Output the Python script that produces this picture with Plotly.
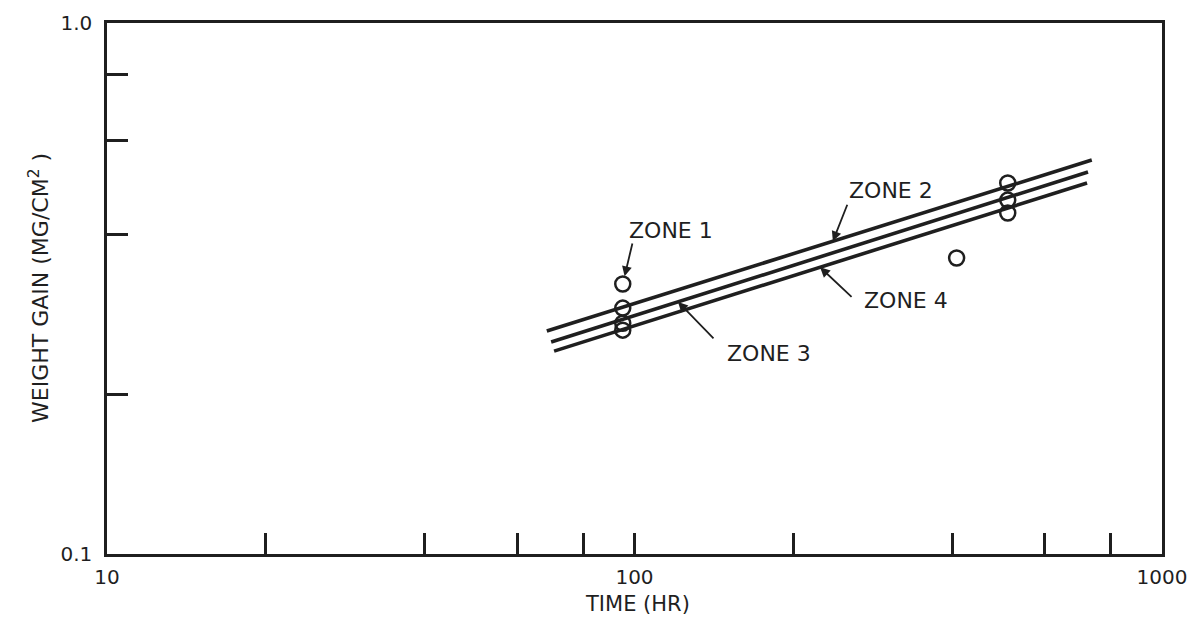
import math
import plotly.graph_objects as go

INK = "#1f1f1f"
FONT = "DejaVu Sans"

# Fitted weight-gain lines (time in hr, gain in mg/cm^2), one per zone
zone2_line_t = [68.2, 736]
zone2_line_w = [0.263, 0.552]
zone3_line_t = [69.5, 724]
zone3_line_w = [0.2507, 0.524]
zone4_line_t = [70.4, 721]
zone4_line_w = [0.241, 0.4996]

# Measured weight gains
zone1_t = [95, 408]
zone1_w = [0.3225, 0.361]
zone2_t = [95, 510]
zone2_w = [0.2905, 0.4996]
zone3_t = [95, 510]
zone3_w = [0.272, 0.464]
zone4_t = [95, 510]
zone4_w = [0.264, 0.4387]

# Axis ticks: labelled decades plus unlabelled intermediate marks
x_tickvals = [10, 100, 1000]
x_ticktext = ["10", "100", "1000"]
x_minor_vals = [20, 40, 60, 80, 200, 400, 600, 800]
y_tickvals = [0.1, 1.0]
y_ticktext = ["0.1", "1.0"]
y_minor_vals = [0.2, 0.4, 0.6, 0.8]

x_title = "TIME (HR)"
y_title = "WEIGHT GAIN (MG/CM<sup>2</sup> )"


def on_line(ts, ws, t):
    """Gain on a straight log-log line at time t."""
    lt0, lt1 = math.log10(ts[0]), math.log10(ts[1])
    lw0, lw1 = math.log10(ws[0]), math.log10(ws[1])
    f = (math.log10(t) - lt0) / (lt1 - lt0)
    return lw0 + f * (lw1 - lw0)


fig = go.Figure()

for ts, ws in [(zone2_line_t, zone2_line_w), (zone3_line_t, zone3_line_w),
               (zone4_line_t, zone4_line_w)]:
    fig.add_trace(go.Scatter(x=ts, y=ws, mode="lines",
                             line=dict(color=INK, width=3.6),
                             showlegend=False, hoverinfo="skip"))

for ts, ws in [(zone1_t, zone1_w), (zone2_t, zone2_w), (zone3_t, zone3_w),
               (zone4_t, zone4_w)]:
    fig.add_trace(go.Scatter(x=ts, y=ws, mode="markers",
                             marker=dict(symbol="circle-open", size=15, color=INK,
                                         line=dict(width=2.5, color=INK)),
                             showlegend=False))

label_font = dict(family=FONT, size=22, color=INK)
annotations = []

# Zone labels
for text, lx, ly in [("ZONE 1", 2.069, -0.390), ("ZONE 2", 2.486, -0.3145),
                     ("ZONE 4", 2.515, -0.5217), ("ZONE 3", 2.255, -0.6215)]:
    annotations.append(dict(x=lx, y=ly, xref="x", yref="y", text=text,
                            showarrow=False, font=label_font,
                            xanchor="center", yanchor="middle"))

# Leader arrows pointing from each label to its line or point
arrow_common = dict(xref="x", yref="y", axref="pixel", ayref="pixel", text="",
                    showarrow=True, arrowhead=2, arrowsize=1.1, arrowwidth=1.8,
                    arrowcolor=INK)
annotations.append(dict(x=math.log10(zone1_t[0]), y=math.log10(zone1_w[0]),
                        ax=10, ay=-42, standoff=8, **arrow_common))
t2 = 237.7
annotations.append(dict(x=math.log10(t2), y=on_line(zone2_line_t, zone2_line_w, t2),
                        ax=15, ay=-38, **arrow_common))
t4 = 224.8
annotations.append(dict(x=math.log10(t4), y=on_line(zone4_line_t, zone4_line_w, t4),
                        ax=33, ay=31, **arrow_common))
t3 = 120.9
annotations.append(dict(x=math.log10(t3), y=on_line(zone3_line_t, zone3_line_w, t3),
                        ax=37, ay=38, **arrow_common))

# Axis titles, placed in paper coordinates
annotations.append(dict(x=0.503, y=-0.094, xref="paper", yref="paper",
                        text=x_title, showarrow=False,
                        font=dict(family=FONT, size=21, color=INK),
                        xanchor="center", yanchor="middle"))
annotations.append(dict(x=-0.0645, y=0.501, xref="paper", yref="paper",
                        text=y_title, showarrow=False, textangle=-90,
                        font=dict(family=FONT, size=22, color=INK),
                        xanchor="center", yanchor="middle"))

tick_style = dict(ticks="inside", ticklen=21, tickwidth=2.5, tickcolor=INK)

fig.update_layout(
    width=1197, height=617,
    margin=dict(l=107, r=35, t=23, b=63, pad=0),
    paper_bgcolor="white", plot_bgcolor="white",
    font=dict(family=FONT, color=INK, size=20),
    annotations=annotations,
    xaxis=dict(
        type="log", range=[1, 3], showgrid=False, zeroline=False,
        showline=True, mirror=True, linecolor=INK, linewidth=2.5,
        tickvals=x_tickvals, ticktext=x_ticktext, ticklabelstandoff=3,
        minor=dict(tickvals=x_minor_vals, showgrid=False, **tick_style),
        tickfont=dict(family=FONT, size=20, color=INK), automargin=False,
        **tick_style,
    ),
    yaxis=dict(
        type="log", range=[-1, 0], showgrid=False, zeroline=False,
        showline=True, mirror=True, linecolor=INK, linewidth=2.5,
        tickvals=y_tickvals, ticktext=y_ticktext, ticklabelstandoff=8,
        minor=dict(tickvals=y_minor_vals, showgrid=False, **tick_style),
        tickfont=dict(family=FONT, size=20, color=INK), automargin=False,
        **tick_style,
    ),
)

fig.write_html("out.html")
